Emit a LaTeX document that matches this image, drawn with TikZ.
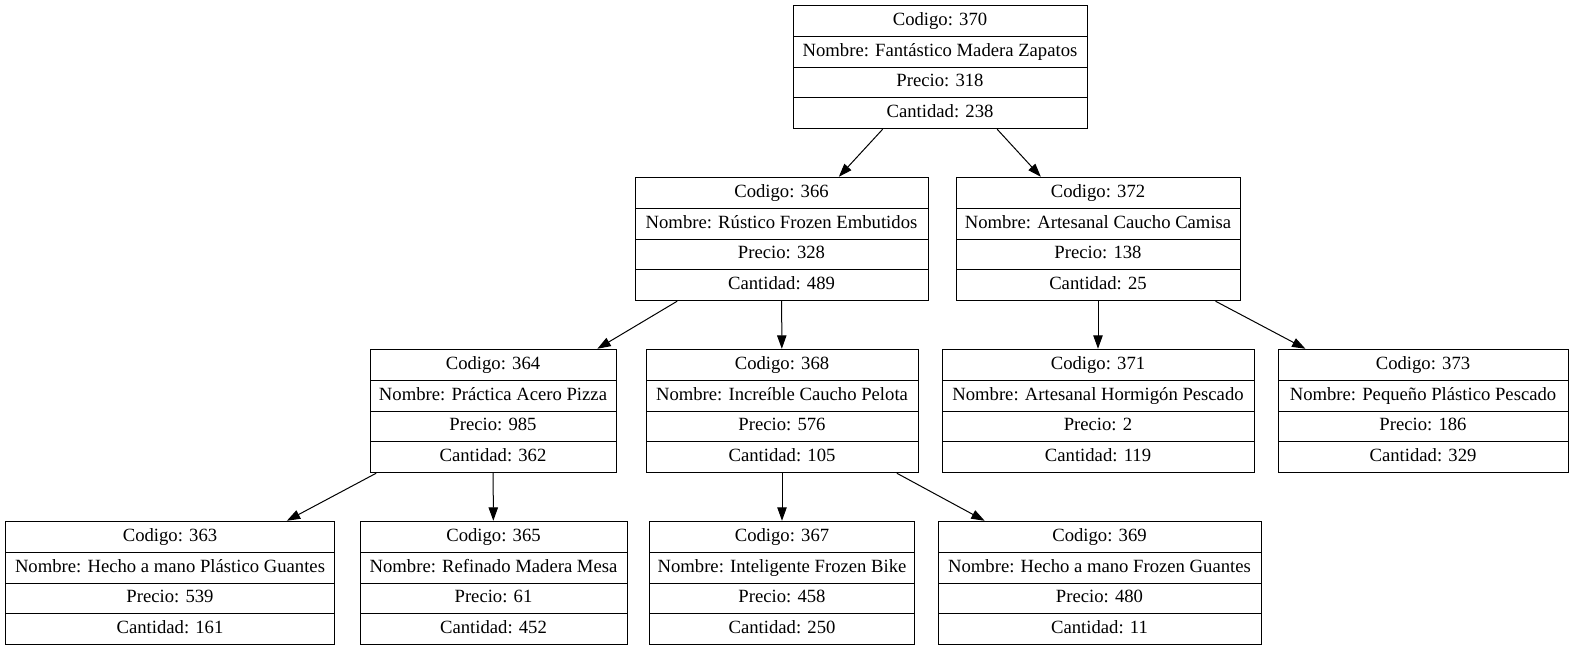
\documentclass[tikz,border=0pt]{standalone}
\usepackage{fontspec}
\setmainfont{Liberation Serif}
\usetikzlibrary{shapes.multipart,arrows.meta}

\begin{document}
\begin{tikzpicture}[
    x=0.75pt, y=-0.75pt,
    registro/.style={rectangle split, rectangle split parts=4, draw, line width=0.75pt,
        font=\fontsize{14pt}{17pt}\selectfont, inner xsep=6pt, inner ysep=2.7pt,
        minimum width=#1*0.75pt},
    flecha/.style={draw, line width=0.75pt, -{Triangle[length=10pt,width=7pt]}}
]
\useasboundingbox (0,0) rectangle (1575,651);

% Raiz
\node[registro=294] (n370) at (940,67) {\strut Codigo: 370\nodepart{two}\strut Nombre: Fantástico Madera Zapatos\nodepart{three}\strut Precio: 318\nodepart{four}\strut Cantidad: 238};

% Nivel 1
\node[registro=293] (n366) at (781.5,239) {\strut Codigo: 366\nodepart{two}\strut Nombre: Rústico Frozen Embutidos\nodepart{three}\strut Precio: 328\nodepart{four}\strut Cantidad: 489};
\node[registro=284] (n372) at (1098,239) {\strut Codigo: 372\nodepart{two}\strut Nombre: Artesanal Caucho Camisa\nodepart{three}\strut Precio: 138\nodepart{four}\strut Cantidad: 25};

% Nivel 2
\node[registro=246] (n364) at (493,411) {\strut Codigo: 364\nodepart{two}\strut Nombre: Práctica Acero Pizza\nodepart{three}\strut Precio: 985\nodepart{four}\strut Cantidad: 362};
\node[registro=272] (n368) at (782,411) {\strut Codigo: 368\nodepart{two}\strut Nombre: Increíble Caucho Pelota\nodepart{three}\strut Precio: 576\nodepart{four}\strut Cantidad: 105};
\node[registro=312] (n371) at (1098,411) {\strut Codigo: 371\nodepart{two}\strut Nombre: Artesanal Hormigón Pescado\nodepart{three}\strut Precio: 2\nodepart{four}\strut Cantidad: 119};
\node[registro=290] (n373) at (1423,411) {\strut Codigo: 373\nodepart{two}\strut Nombre: Pequeño Plástico Pescado\nodepart{three}\strut Precio: 186\nodepart{four}\strut Cantidad: 329};

% Nivel 3
\node[registro=329] (n363) at (170,583) {\strut Codigo: 363\nodepart{two}\strut Nombre: Hecho a mano Plástico Guantes\nodepart{three}\strut Precio: 539\nodepart{four}\strut Cantidad: 161};
\node[registro=267] (n365) at (493.5,583) {\strut Codigo: 365\nodepart{two}\strut Nombre: Refinado Madera Mesa\nodepart{three}\strut Precio: 61\nodepart{four}\strut Cantidad: 452};
\node[registro=262] (n367) at (782,583) {\strut Codigo: 367\nodepart{two}\strut Nombre: Inteligente Frozen Bike\nodepart{three}\strut Precio: 458\nodepart{four}\strut Cantidad: 250};
\node[registro=323] (n369) at (1099.5,583) {\strut Codigo: 369\nodepart{two}\strut Nombre: Hecho a mano Frozen Guantes\nodepart{three}\strut Precio: 480\nodepart{four}\strut Cantidad: 11};

% Aristas
\draw[flecha] (n370) -- (n366);
\draw[flecha] (n370) -- (n372);
\draw[flecha] (n366) -- (n364);
\draw[flecha] (n366) -- (n368);
\draw[flecha] (n372) -- (n371);
\draw[flecha] (n372) -- (n373);
\draw[flecha] (n364) -- (n363);
\draw[flecha] (n364) -- (n365);
\draw[flecha] (n368) -- (n367);
\draw[flecha] (n368) -- (n369);

\end{tikzpicture}
\end{document}
